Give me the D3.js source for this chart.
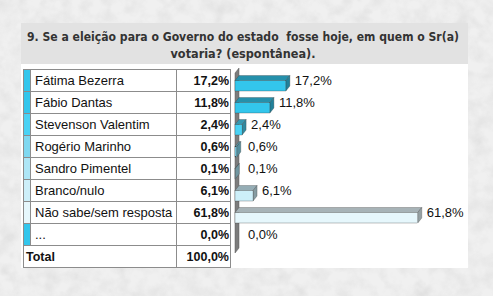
<!DOCTYPE html>
<html>
<head>
<meta charset="utf-8">
<script src="https://cdn.jsdelivr.net/npm/d3@7"></script>
<style>
  html, body { margin: 0; padding: 0; background: #eeeeee; }
  svg { display: block; }
</style>
</head>
<body>
<svg id="chart" width="493" height="296"></svg>
<script>
// ****** Data
var titleLines = ['9. Se a eleição para o Governo do estado  fosse hoje, em quem o Sr(a)',
                  'votaria? (espontânea).'];
var names  = ['Fátima Bezerra', 'Fábio Dantas', 'Stevenson Valentim', 'Rogério Marinho',
              'Sandro Pimentel', 'Branco/nulo', 'Não sabe/sem resposta', '...'];
var values = [17.2, 11.8, 2.4, 0.6, 0.1, 6.1, 61.8, 0.0];
var totalLabel = 'Total';
var totalValue = '100,0%';
var colors = ['#33c6ec', '#33c6ec', '#4ad2f4', '#7fd8f0', '#aee6f6', '#cdeff9', '#e6f7fc', '#33c6ec'];

// ****** Layout
var W = 493, H = 296;
var rowTop = 69, rowH = 22;
var tbl = { x0: 23, xDiv: 176, x1: 230 };
var depth = { dx: 4, dy: 5 };
var titleW = [432, 145];
var fmt = function(v) { return d3.format('.1f')(v).replace('.', ',') + '%'; };

var svg = d3.select('#chart');

// paper texture background
var defs = svg.append('defs');
var f = defs.append('filter').attr('id', 'paper').attr('x', 0).attr('y', 0).attr('width', '100%').attr('height', '100%');
f.append('feTurbulence').attr('type', 'fractalNoise').attr('baseFrequency', 0.07).attr('numOctaves', 3).attr('seed', 4).attr('result', 'n');
f.append('feColorMatrix').attr('in', 'n').attr('type', 'matrix')
  .attr('values', '0 0 0 0 0.55  0 0 0 0 0.55  0 0 0 0 0.55  0.5 0.5 0.5 0 -0.62');
svg.append('rect').attr('width', W).attr('height', H).attr('fill', '#f0f0f0');
svg.append('rect').attr('width', W).attr('height', H).attr('filter', 'url(#paper)').attr('opacity', 0.6);

// title box + white panel
svg.append('rect').attr('x', 21).attr('y', 23).attr('width', 447).attr('height', 41).attr('fill', '#e2e2e2');
svg.append('rect').attr('x', 21).attr('y', 64).attr('width', 447).attr('height', 204).attr('fill', '#ffffff');

svg.selectAll('text.title').data(titleLines).enter().append('text')
  .attr('class', 'title')
  .attr('x', 243).attr('y', function(d, i) { return 41 + i * 17; })
  .attr('text-anchor', 'middle')
  .attr('textLength', function(d, i) { return titleW[i]; })
  .attr('lengthAdjust', 'spacingAndGlyphs')
  .style('white-space', 'pre')
  .style('font-family', 'DejaVu Sans, sans-serif').style('font-size', '11.5px').style('font-weight', 'bold')
  .style('fill', '#333')
  .text(function(d) { return d; });

// ****** Scales
var y = d3.scaleBand().domain(names).range([rowTop, rowTop + names.length * rowH]);
var x = d3.scaleLinear().domain([0, 70]).range([237, 444]);

// ****** Table
var tg = svg.append('g');
var rows = tg.selectAll('g.row').data(names).enter().append('g').attr('class', 'row');
rows.append('rect').attr('x', tbl.x0).attr('y', function(d) { return y(d); })
  .attr('width', 7).attr('height', rowH).attr('fill', function(d, i) { return colors[i]; });
rows.append('text').attr('x', 35).attr('y', function(d) { return y(d) + rowH / 2 + 5; })
  .style('font-family', 'Liberation Sans, Arial, sans-serif').style('font-size', '13px').style('fill', '#111')
  .text(function(d) { return d; });
rows.append('text').attr('x', tbl.x1 - 1).attr('y', function(d) { return y(d) + rowH / 2 + 5; })
  .attr('text-anchor', 'end')
  .style('font-family', 'Liberation Sans, Arial, sans-serif').style('font-size', '12.5px').style('font-weight', 'bold').style('fill', '#111')
  .text(function(d, i) { return fmt(values[i]); });

var totY = rowTop + names.length * rowH;
tg.append('text').attr('x', 26).attr('y', totY + rowH / 2 + 5)
  .style('font-family', 'Liberation Sans, Arial, sans-serif').style('font-size', '12.5px').style('font-weight', 'bold').style('fill', '#111')
  .text(totalLabel);
tg.append('text').attr('x', tbl.x1 - 1).attr('y', totY + rowH / 2 + 5).attr('text-anchor', 'end')
  .style('font-family', 'Liberation Sans, Arial, sans-serif').style('font-size', '12.5px').style('font-weight', 'bold').style('fill', '#111')
  .text(totalValue);

// grid lines
var lineCol = '#8c8c8c';
var hs = d3.range(names.length + 2).map(function(i) { return rowTop + i * rowH; });
tg.selectAll('line.h').data(hs).enter().append('line')
  .attr('x1', tbl.x0).attr('x2', tbl.x1 + 1).attr('y1', function(d) { return d + 0.5; }).attr('y2', function(d) { return d + 0.5; })
  .attr('stroke', lineCol).attr('stroke-width', 1);
[tbl.x0, tbl.xDiv, tbl.x1].forEach(function(xx) {
  tg.append('line').attr('x1', xx + 0.5).attr('x2', xx + 0.5).attr('y1', rowTop).attr('y2', rowTop + (names.length + 1) * rowH + 1)
    .attr('stroke', lineCol).attr('stroke-width', 1);
});
tg.append('line').attr('x1', tbl.x0 + 7.5).attr('x2', tbl.x0 + 7.5).attr('y1', rowTop).attr('y2', totY)
  .attr('stroke', lineCol).attr('stroke-width', 1);

// ****** Bars
var bg = svg.append('g');
var wallTop = rowTop + 4, wallBot = rowTop + names.length * rowH + 8;
bg.append('polygon')
  .attr('points', [[x(0) - 2, wallTop], [x(0) + 2, wallTop - depth.dy], [x(0) + 2, wallBot - depth.dy], [x(0) - 2, wallBot]].join(' '))
  .attr('fill', '#7c7c7c').attr('stroke', '#5a5a5a').attr('stroke-width', 0.5);

var bars = bg.selectAll('g.bar').data(values).enter().append('g').attr('class', 'bar');
bars.each(function(v, i) {
  if (v <= 0) return;
  var g = d3.select(this);
  var c = y(names[i]) + rowH / 2;
  var x0 = x(0) - 2, x1 = x(v) - 2, y0 = c + 0.5, y1 = c + 11;
  var col = d3.color(colors[i]);
  g.append('polygon').attr('points', [[x0, y0], [x0 + depth.dx, y0 - depth.dy], [x1 + depth.dx, y0 - depth.dy], [x1, y0]].join(' '))
    .attr('fill', col.darker(0.9)).attr('stroke', '#333').attr('stroke-width', 0.3);
  g.append('polygon').attr('points', [[x1, y0], [x1 + depth.dx, y0 - depth.dy], [x1 + depth.dx, y1 - depth.dy], [x1, y1]].join(' '))
    .attr('fill', col.darker(1.2)).attr('stroke', '#333').attr('stroke-width', 0.3);
  g.append('rect').attr('x', x0).attr('y', y0).attr('width', x1 - x0).attr('height', y1 - y0)
    .attr('fill', col).attr('stroke', '#333').attr('stroke-width', 0.3);
});

bg.selectAll('text.val').data(values).enter().append('text').attr('class', 'val')
  .attr('x', function(v) { return Math.max(x(v), x(0) + 4) + depth.dx + 3; })
  .attr('y', function(v, i) { return y(names[i]) + rowH / 2 + 5; })
  .style('font-family', 'Liberation Sans, Arial, sans-serif').style('font-size', '13px').style('fill', '#111')
  .text(fmt);
</script>
</body>
</html>
